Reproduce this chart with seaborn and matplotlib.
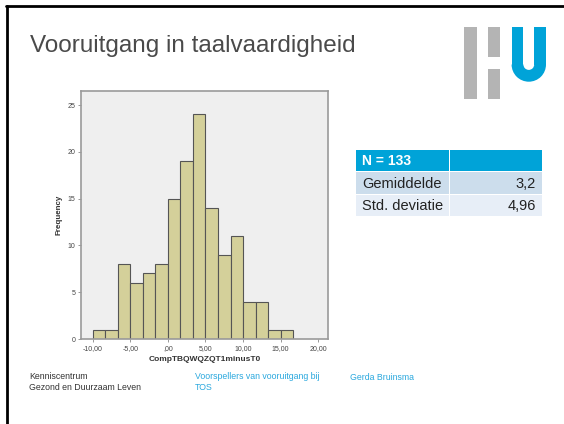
"""
Slide: histogram of progress in language skills (SPSS style) with summary table.
"""

import numpy as np
import matplotlib
matplotlib.use("Agg")
import matplotlib.pyplot as plt
import matplotlib.patches as mpatches
import seaborn as sns

# Histogram data: bin centers (width 5/3, starting at -10) and counts
bin_start = -10.0
bin_width = 5.0 / 3.0
counts = [1, 1, 8, 6, 7, 8, 15, 19, 24, 14, 9, 11, 4, 4, 1, 1]
bin_centers = [bin_start + bin_width * (i + 0.5) for i in range(len(counts))]

x_ticks = [-10, -5, 0, 5, 10, 15, 20]
x_tick_labels = ["-10,00", "-5,00", ",00", "5,00", "10,00", "15,00", "20,00"]
y_ticks = [0, 5, 10, 15, 20, 25]

# Summary table
table_header = "N = 133"
table_rows = ["Gemiddelde", "Std. deviatie"]
table_values = ["3,2", "4,96"]

TITLE = "Vooruitgang in taalvaardigheid"
X_LABEL = "CompTBQWQZQT1minusT0"

BAR_COLOR = "#D4D09A"
BLUE = "#00A3D8"
GREY_LOGO = "#B4B4B4"

sns.set_style("white")
plt.rcParams["font.family"] = ["Liberation Sans", "DejaVu Sans"]

W, H = 564, 424
fig = plt.figure(figsize=(W / 100, H / 100), dpi=100)
fig.patch.set_facecolor("white")

# Histogram axes (pixel box: left 81, right 328, top 91, bottom 339)
ax = fig.add_axes([81 / W, 1 - 339 / H, (328 - 81) / W, (339 - 91) / H])
sns.histplot(
    x=bin_centers, weights=counts, binwidth=bin_width,
    binrange=(bin_start, bin_start + bin_width * len(counts)),
    color=BAR_COLOR, edgecolor="#555555", linewidth=0.8, alpha=1.0, ax=ax,
)
ax.set_facecolor("#EFEFEF")
ax.set_xlim(-11.55, 21.3)
ax.set_ylim(0, 26.5)
ax.set_xticks(x_ticks)
ax.set_xticklabels(x_tick_labels)
ax.set_yticks(y_ticks)
ax.tick_params(axis="both", labelsize=5, labelcolor="#444444", color="#888888",
               length=2.5, width=0.6, pad=1.5, bottom=True, left=True)
for s in ax.spines.values():
    s.set_color("#9A9A9A")
    s.set_linewidth(1.2)
ax.set_xlabel(X_LABEL, fontsize=6, fontweight="bold", color="#333333", labelpad=3)
ax.set_ylabel("Frequency", fontsize=5.8, fontweight="bold", color="#333333", labelpad=4)

# Overlay axes in pixel coordinates for slide decoration
ov = fig.add_axes([0, 0, 1, 1], zorder=-1)
ov.set_xlim(0, W)
ov.set_ylim(H, 0)
ov.axis("off")

# slide border (left and top)
ov.plot([6.5, 6.5], [H, 6], color="black", lw=2)
ov.plot([5.5, W], [6, 6], color="black", lw=2)

ov.text(30, 52, TITLE, fontsize=17.5, color="#4A4A4A", va="baseline", ha="left")

# HU logo
ov.add_patch(mpatches.Rectangle((464, 27), 12.5, 72, color=GREY_LOGO, lw=0))
ov.add_patch(mpatches.Rectangle((487.5, 27), 12.5, 30, color=GREY_LOGO, lw=0))
ov.add_patch(mpatches.Rectangle((487.5, 69), 12.5, 30, color=GREY_LOGO, lw=0))
cx, cy, r_out, arm = 528.8, 64.5, 17.2, 11.8
ov.add_patch(mpatches.Rectangle((cx - r_out, 27), arm, cy - 27, color=BLUE, lw=0))
ov.add_patch(mpatches.Rectangle((cx + r_out - arm, 27), arm, cy - 27, color=BLUE, lw=0))
ov.add_patch(mpatches.Wedge((cx, cy), r_out, 0, 180, width=arm, color=BLUE, lw=0))

# Summary table
tx0, tx1, tx2 = 356, 449, 542
row_y = [150, 172, 195, 217]
row_colors = [BLUE, "#CCDDEC", "#E7EEF7"]
for i, c in enumerate(row_colors):
    y0, y1 = row_y[i], row_y[i + 1]
    ov.add_patch(mpatches.Rectangle((tx0, y0), tx1 - tx0 - 0.5, y1 - y0 - 1, color=c, lw=0))
    ov.add_patch(mpatches.Rectangle((tx1 + 0.5, y0), tx2 - tx1 - 0.5, y1 - y0 - 1, color=c, lw=0))
ov.text(tx0 + 6, (row_y[0] + row_y[1]) / 2, table_header, fontsize=10,
        fontweight="bold", color="white", va="center", ha="left")
for i, (lab, val) in enumerate(zip(table_rows, table_values)):
    yc = (row_y[i + 1] + row_y[i + 2]) / 2
    ov.text(tx0 + 6, yc, lab, fontsize=10.5, color="#222222", va="center", ha="left")
    ov.text(tx2 - 6, yc, val, fontsize=10.5, color="#222222", va="center", ha="right")

# Footer
ov.text(29, 382, "Kenniscentrum\nGezond en Duurzaam Leven", fontsize=6.3,
        color="#333333", va="center", ha="left", linespacing=1.15)
ov.text(195, 382, "Voorspellers van vooruitgang bij\nTOS", fontsize=6.3,
        color="#2AA8DE", va="center", ha="left", linespacing=1.15)
ov.text(350, 377, "Gerda Bruinsma", fontsize=6.3, color="#2AA8DE",
        va="center", ha="left")

plt.savefig("out.png", dpi=100)
plt.close()
